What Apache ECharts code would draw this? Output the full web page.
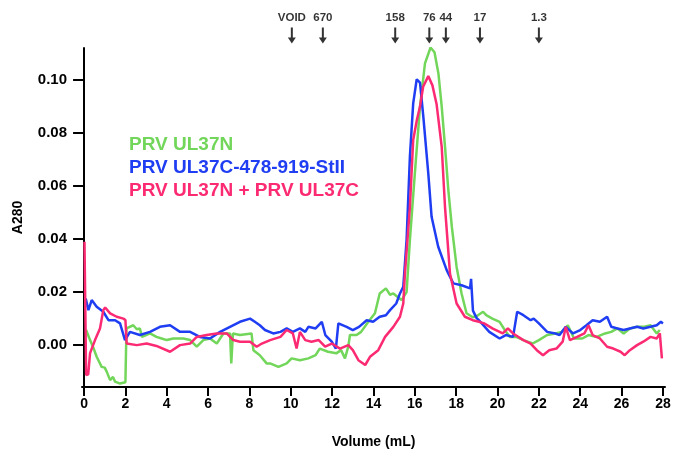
<!DOCTYPE html>
<html>
<head>
<meta charset="utf-8">
<script src="https://cdn.jsdelivr.net/npm/echarts@6/dist/echarts.min.js"></script>
<style>
  html, body { margin: 0; padding: 0; background: #fff; }
  #chart { width: 676px; height: 449px; }
</style>
</head>
<body>
<div id="chart"></div>
<script>
// elution volumes (mL) and A280 readings, one pair of arrays per trace
var greenVol = [0.1, 0.29, 0.45, 0.61, 0.85, 1.0, 1.1, 1.26, 1.4, 1.5, 1.74, 2.0, 2.05, 2.14, 2.38, 2.55, 2.7, 2.8, 3.0, 3.19, 3.5, 3.75, 4.0, 4.32, 4.8, 5.13, 5.45, 5.77, 6.09, 6.42, 6.74, 7.06, 7.12, 7.2, 7.54, 8.1, 8.19, 8.5, 8.83, 9.0, 9.4, 9.8, 10.04, 10.44, 10.85, 11.2, 11.4, 11.8, 12.2, 12.43, 12.62, 12.78, 12.86, 13.18, 13.4, 13.75, 14.07, 14.3, 14.6, 14.8, 14.96, 15.2, 15.36, 15.45, 15.6, 15.76, 16.0, 16.25, 16.49, 16.76, 16.95, 17.14, 17.3, 17.46, 17.62, 17.79, 18.02, 18.26, 18.5, 18.8, 19.0, 19.3, 19.45, 19.75, 20.1, 20.35, 20.6, 20.9, 21.25, 21.7, 22.0, 22.4, 22.8, 23.1, 23.4, 23.7, 24.1, 24.4, 24.8, 25.2, 25.5, 25.8, 26.1, 26.4, 26.75, 27.1, 27.4, 27.7, 27.85];
var greenA280 = [0.0057, 0.0019, -0.001, -0.0044, -0.0082, -0.0085, -0.0101, -0.0132, -0.012, -0.0138, -0.0145, -0.014, 0.0063, 0.0063, 0.0075, 0.006, 0.0063, 0.0031, 0.0038, 0.0044, 0.0031, 0.0025, 0.0019, 0.0025, 0.0025, 0.0019, -0.0006, 0.0019, 0.0025, 0.0006, 0.0044, 0.0044, -0.0069, 0.0044, 0.0038, 0.0044, -0.0019, -0.0038, -0.0069, -0.0069, -0.0082, -0.0069, -0.005, -0.0057, -0.005, -0.0038, -0.0013, -0.0025, -0.0031, -0.0019, -0.005, -0.0006, 0.0038, 0.0038, 0.005, 0.0088, 0.012, 0.0195, 0.0214, 0.019, 0.0195, 0.018, 0.017, 0.0163, 0.02, 0.0396, 0.0648, 0.09, 0.1063, 0.1123, 0.1105, 0.1025, 0.09, 0.0748, 0.0585, 0.0446, 0.0295, 0.0195, 0.012, 0.0105, 0.011, 0.0126, 0.0113, 0.01, 0.0088, 0.0057, 0.0031, 0.0031, 0.0019, 0.0006, 0.0019, 0.0038, 0.0044, 0.005, 0.0075, 0.0025, 0.0025, 0.0038, 0.0031, 0.0044, 0.005, 0.0063, 0.0044, 0.0063, 0.0069, 0.0069, 0.0075, 0.0044, 0.0057];

var blueVol = [0.08, 0.21, 0.37, 0.61, 0.93, 1.18, 1.5, 1.74, 1.98, 2.22, 2.7, 3.19, 3.67, 4.16, 4.64, 5.13, 5.6, 6.09, 6.58, 7.06, 7.54, 8.03, 8.26, 8.5, 8.75, 9.15, 9.5, 9.8, 10.1, 10.44, 10.7, 10.85, 11.2, 11.5, 11.67, 11.98, 12.18, 12.3, 12.7, 13.0, 13.3, 13.67, 13.98, 14.3, 14.6, 14.8, 15.1, 15.28, 15.44, 15.6, 15.76, 15.92, 16.09, 16.25, 16.41, 16.65, 16.81, 17.13, 17.54, 17.86, 18.26, 18.67, 18.72, 18.81, 18.99, 19.1, 19.6, 20.1, 20.4, 20.75, 20.95, 21.25, 21.6, 21.75, 22.0, 22.4, 22.8, 23.0, 23.3, 23.65, 24.0, 24.3, 24.6, 24.95, 25.3, 25.5, 25.8, 26.1, 26.4, 26.75, 27.05, 27.4, 27.7, 27.9, 28.0];
var blueA280 = [0.0176, 0.0132, 0.017, 0.0145, 0.0126, 0.0094, 0.0094, 0.0082, 0.0019, 0.005, 0.0038, 0.005, 0.0069, 0.0075, 0.005, 0.005, 0.0031, 0.0025, 0.005, 0.0069, 0.0088, 0.01, 0.0088, 0.0075, 0.0057, 0.0044, 0.005, 0.0063, 0.005, 0.0063, 0.005, 0.0069, 0.0063, 0.0088, 0.0038, 0.0013, -0.0013, 0.0082, 0.0069, 0.0057, 0.0069, 0.0094, 0.0088, 0.0107, 0.0113, 0.0132, 0.0157, 0.0195, 0.022, 0.0396, 0.071, 0.0912, 0.1003, 0.099, 0.0862, 0.0648, 0.0484, 0.0371, 0.0283, 0.0233, 0.0226, 0.0214, 0.025, 0.013, 0.0102, 0.0094, 0.005, 0.0025, 0.0038, 0.0031, 0.0126, 0.0113, 0.0094, 0.01, 0.0082, 0.005, 0.0044, 0.0038, 0.0069, 0.0044, 0.0057, 0.0075, 0.0094, 0.0088, 0.0107, 0.0069, 0.0063, 0.0057, 0.0063, 0.0069, 0.0063, 0.0069, 0.0075, 0.0088, 0.0082];

var pinkVol = [0.02, 0.1, 0.2, 0.29, 0.53, 0.77, 0.93, 1.02, 1.26, 1.58, 1.9, 2.0, 2.06, 2.55, 3.03, 3.5, 4.16, 4.64, 5.13, 5.45, 5.93, 6.42, 6.9, 7.22, 7.54, 8.03, 8.35, 8.6, 9.0, 9.5, 9.8, 10.1, 10.28, 10.44, 10.7, 11.0, 11.35, 11.66, 11.98, 12.38, 12.78, 13.0, 13.27, 13.6, 13.83, 14.23, 14.56, 14.96, 15.28, 15.44, 15.52, 15.76, 15.92, 16.1, 16.25, 16.4, 16.65, 16.85, 17.05, 17.3, 17.46, 17.7, 18.02, 18.42, 18.8, 19.1, 19.35, 19.75, 20.25, 20.5, 20.75, 21.25, 21.6, 21.9, 22.2, 22.5, 22.85, 23.15, 23.3, 23.5, 23.85, 24.2, 24.4, 24.6, 24.95, 25.3, 25.6, 25.95, 26.15, 26.4, 26.75, 27.05, 27.4, 27.7, 27.85, 27.95];
var pinkA280 = [0.039, -0.0113, -0.011, -0.003, 0.0019, 0.0063, 0.0132, 0.0142, 0.012, 0.0107, 0.01, 0.0095, 0.0006, 0, 0.0006, -0.0003, -0.0025, 0, 0.0006, 0.0031, 0.0038, 0.0044, 0.0044, 0.0019, 0.0013, 0.0013, -0.0006, 0.0006, 0.0019, 0.0031, 0.0057, 0.0044, -0.0013, 0.005, 0.0019, 0.0013, 0.0019, -0.0006, 0.0006, -0.0013, 0, -0.0019, -0.0057, -0.0075, -0.0044, -0.0019, 0.0031, 0.0069, 0.0107, 0.0157, 0.027, 0.052, 0.0774, 0.085, 0.09, 0.0975, 0.1015, 0.098, 0.091, 0.0748, 0.052, 0.027, 0.0157, 0.0107, 0.0094, 0.0088, 0.0082, 0.0063, 0.0044, 0.0063, 0.0044, 0.0019, 0.0006, -0.0019, -0.0038, -0.0019, -0.0013, 0.0013, 0.0069, 0.0019, 0.0031, 0.0044, 0.0075, 0.0038, 0.0025, -0.0006, -0.0013, -0.0025, -0.0038, -0.0019, 0, 0.0013, 0.0031, 0.0025, 0.0044, -0.005];

// size standards (top arrows)
var markerNames = ['VOID', '670', '158', '76', '44', '17', '1.3'];
var markerVol = [10.05, 11.55, 15.05, 16.7, 17.5, 19.15, 22.0];

var seriesNames = ['PRV UL37N', 'PRV UL37C-478-919-StII', 'PRV UL37N + PRV UL37C'];
var seriesColors = ['#72d65a', '#1f3df2', '#fb2a72'];
var xTicks = [0, 2, 4, 6, 8, 10, 12, 14, 16, 18, 20, 22, 24, 26, 28];
var yTicks = [0, 0.02, 0.04, 0.06, 0.08, 0.10];

function zip(xs, ys) {
  return xs.map(function (x, i) { return [x, ys[i]]; });
}

var font = 'Liberation Sans, Arial, Helvetica, sans-serif';
var chart = echarts.init(document.getElementById('chart'));

var lineSeries = [
  zip(greenVol, greenA280),
  zip(blueVol, blueA280),
  zip(pinkVol, pinkA280)
].map(function (d, i) {
  return {
    name: seriesNames[i],
    type: 'line',
    xAxisIndex: 0,
    yAxisIndex: 0,
    data: d,
    showSymbol: false,
    symbol: 'none',
    lineStyle: { color: seriesColors[i], width: 2.5 },
    itemStyle: { color: seriesColors[i] },
    z: 2 + i
  };
});

var option = {
  animation: false,
  backgroundColor: '#fff',
  textStyle: { fontFamily: font },
  grid: [
    { left: 82, top: 48, width: 583, height: 339, outerBoundsMode: 'none', containLabel: false },
    { left: 82, top: 0, width: 583, height: 50, outerBoundsMode: 'none', containLabel: false }
  ],
  legend: {
    orient: 'vertical',
    left: 118,
    top: 130,
    icon: 'none',
    itemWidth: 1,
    itemGap: 4,
    selectedMode: false,
    textStyle: { fontSize: 19, fontWeight: 'bold', fontFamily: font },
    data: seriesNames.map(function (n, i) {
      return { name: n, textStyle: { color: seriesColors[i] } };
    })
  },
  xAxis: [{
    type: 'value',
    gridIndex: 0,
    min: -0.1,
    max: 28.1,
    interval: 2,
    name: 'Volume (mL)',
    nameLocation: 'middle',
    nameGap: 48,
    nameTextStyle: { fontSize: 14, fontWeight: 'bold', color: '#000' },
    axisLine: { onZero: false, lineStyle: { color: '#000', width: 2 } },
    axisTick: { show: true, length: 9, lineStyle: { color: '#000', width: 2 }, customValues: xTicks },
    axisLabel: { fontSize: 14, fontWeight: 'bold', color: '#000', margin: 10, customValues: xTicks },
    splitLine: { show: false }
  }, {
    type: 'value',
    gridIndex: 1,
    min: -0.1,
    max: 28.1,
    show: false
  }],
  yAxis: [{
    type: 'value',
    gridIndex: 0,
    min: -0.0158,
    max: 0.1121,
    name: 'A280',
    nameLocation: 'middle',
    nameGap: 57,
    nameTextStyle: { fontSize: 14, fontWeight: 'bold', color: '#000' },
    axisLine: { show: true, lineStyle: { color: '#000', width: 2 } },
    axisTick: { show: true, length: 11, lineStyle: { color: '#000', width: 2 }, customValues: yTicks },
    axisLabel: {
      fontSize: 15, fontWeight: 'bold', color: '#000', margin: 15,
      customValues: yTicks,
      formatter: function (v) { return v.toFixed(2); }
    },
    splitLine: { show: false }
  }, {
    type: 'value',
    gridIndex: 1,
    min: 0,
    max: 1,
    show: false
  }],
  series: lineSeries.concat([{
    type: 'scatter',
    xAxisIndex: 1,
    yAxisIndex: 1,
    data: markerVol.map(function (v, i) { return { value: [v, 0.29], name: markerNames[i] }; }),
    symbol: 'path://M3,0 L5,0 L5,10 L8,10 L4,16 L0,10 L3,10 Z',
    symbolSize: [8, 16],
    itemStyle: { color: '#000' },
    label: {
      show: true,
      position: 'top',
      distance: 4,
      formatter: '{b}',
      fontSize: 11.5,
      fontWeight: 'bold',
      color: '#000'
    },
    silent: true,
    z: 5
  }])
};

chart.setOption(option);
</script>
</body>
</html>
